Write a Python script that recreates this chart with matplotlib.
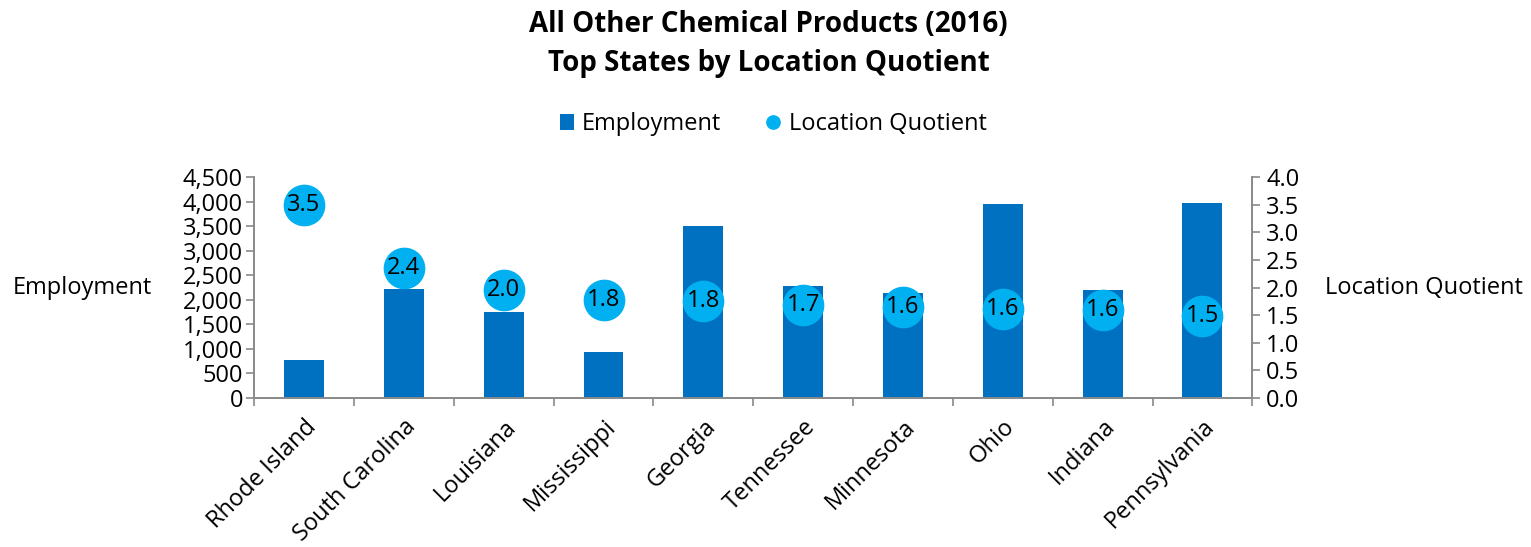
import numpy as np
import matplotlib.pyplot as plt

plt.rcParams['font.family'] = ['Open Sans', 'DejaVu Sans']

states = ['Rhode Island', 'South Carolina', 'Louisiana', 'Mississippi', 'Georgia',
          'Tennessee', 'Minnesota', 'Ohio', 'Indiana', 'Pennsylvania']
employment = [765, 2210, 1755, 940, 3495, 2290, 2145, 3960, 2195, 3980]
lq = [3.5, 2.36, 1.96, 1.78, 1.75, 1.69, 1.64, 1.61, 1.60, 1.49]
lq_labels = ['3.5', '2.4', '2.0', '1.8', '1.8', '1.7', '1.6', '1.6', '1.6', '1.5']

BAR_COLOR = '#0070C0'
DOT_COLOR = '#00B0F0'
AXIS_COLOR = '#898989'
FS = 17

fig = plt.figure(figsize=(15.31, 5.47), dpi=100)
ax = fig.add_axes([0.166, 0.2724, 0.652, 0.404])
ax2 = ax.twinx()

x = np.arange(len(states))
ax.bar(x, employment, width=0.4, color=BAR_COLOR, label='Employment', zorder=2)
ax2.plot(x, lq, 'o', ms=29, color=DOT_COLOR, label='Location Quotient', zorder=3)
for xi, v, s in zip(x, lq, lq_labels):
    ax2.text(xi, v, s, ha='center', va='center', fontsize=FS, color='black', zorder=4)

ax.set_xlim(-0.5, len(states) - 0.5)
ax.set_ylim(0, 4500)
ax2.set_ylim(0, 4.0)
ax.set_yticks(np.arange(0, 4501, 500))
ax.set_yticklabels([f'{v:,}' for v in range(0, 4501, 500)])
ax2.set_yticks(np.arange(0, 4.01, 0.5))
ax2.set_yticklabels([f'{v:.1f}' for v in np.arange(0, 4.01, 0.5)])

ax.set_xticks(x)
ax.set_xticklabels(states, rotation=45, ha='right', rotation_mode='anchor')
ax.set_xticks(np.arange(-0.5, len(states)), minor=True)
ax.tick_params(axis='x', which='major', length=0, labelsize=FS, pad=12)
ax.tick_params(axis='x', which='minor', length=6, color=AXIS_COLOR, width=1.2)
ax.tick_params(axis='y', labelsize=FS, length=6, color=AXIS_COLOR, width=1.2, pad=2)
ax2.tick_params(axis='y', labelsize=FS, length=6, color=AXIS_COLOR, width=1.2, pad=4)

for a in (ax, ax2):
    a.spines['top'].set_visible(False)
    for side in ('left', 'right', 'bottom'):
        a.spines[side].set_color(AXIS_COLOR)
        a.spines[side].set_linewidth(1.2)

ax.set_ylabel('Employment', fontsize=FS, rotation=0, ha='right', va='center', labelpad=22)
ax2.set_ylabel('Location Quotient', fontsize=FS, rotation=0, ha='left', va='center', labelpad=18)

fig.text(0.502, 0.982, 'All Other Chemical Products (2016)\nTop States by Location Quotient',
         ha='center', va='top', fontsize=20, fontweight='bold', linespacing=1.45)

h1, l1 = ax.get_legend_handles_labels()
h2, l2 = ax2.get_legend_handles_labels()
leg = fig.legend(h1 + h2, l1 + l2, loc='center', bbox_to_anchor=(0.505, 0.773), ncol=2,
                 frameon=False, fontsize=FS, handlelength=0.6, handletextpad=0.35,
                 columnspacing=1.9, markerscale=0.33)

fig.savefig('out.png', dpi=100)
